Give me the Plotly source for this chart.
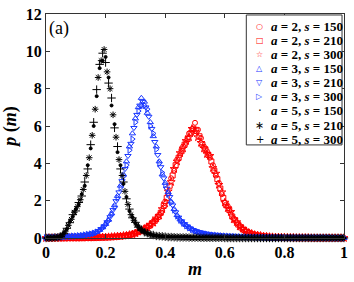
import plotly.graph_objects as go

# ---------------- data ----------------
m_a = [0.00, 0.01, 0.02, 0.03, 0.04, 0.05, 0.06, 0.07, 0.08, 0.09,
       0.10, 0.11, 0.12, 0.13, 0.14, 0.15, 0.16, 0.17, 0.18, 0.19,
       0.20, 0.21, 0.22, 0.23, 0.24, 0.25, 0.26, 0.27, 0.28, 0.29,
       0.30, 0.31, 0.32, 0.33, 0.34, 0.35, 0.36, 0.37, 0.38, 0.39,
       0.40, 0.41, 0.42, 0.43, 0.44, 0.45, 0.46, 0.47, 0.48, 0.49,
       0.50, 0.51, 0.52, 0.53, 0.54, 0.55, 0.56, 0.57, 0.58, 0.59,
       0.60, 0.61, 0.62, 0.63, 0.64, 0.65, 0.66, 0.67, 0.68, 0.69,
       0.70, 0.71, 0.72, 0.73, 0.74, 0.75, 0.76, 0.77, 0.78, 0.79,
       0.80, 0.81, 0.82, 0.83, 0.84, 0.85, 0.86, 0.87, 0.88, 0.89,
       0.90, 0.91, 0.92, 0.93, 0.94, 0.95, 0.96, 0.97, 0.98, 0.99,
       1.00]
m_b = [0.005, 0.015, 0.025, 0.035, 0.045, 0.055, 0.065, 0.075, 0.085, 0.095,
       0.105, 0.115, 0.125, 0.135, 0.145, 0.155, 0.165, 0.175, 0.185, 0.195,
       0.205, 0.215, 0.225, 0.235, 0.245, 0.255, 0.265, 0.275, 0.285, 0.295,
       0.305, 0.315, 0.325, 0.335, 0.345, 0.355, 0.365, 0.375, 0.385, 0.395,
       0.405, 0.415, 0.425, 0.435, 0.445, 0.455, 0.465, 0.475, 0.485, 0.495,
       0.505, 0.515, 0.525, 0.535, 0.545, 0.555, 0.565, 0.575, 0.585, 0.595,
       0.605, 0.615, 0.625, 0.635, 0.645, 0.655, 0.665, 0.675, 0.685, 0.695,
       0.705, 0.715, 0.725, 0.735, 0.745, 0.755, 0.765, 0.775, 0.785, 0.795,
       0.805, 0.815, 0.825, 0.835, 0.845, 0.855, 0.865, 0.875, 0.885, 0.895,
       0.905, 0.915, 0.925, 0.935, 0.945, 0.955, 0.965, 0.975, 0.985, 0.995]

# a = 2
p_a2_s150 = [0, 0, 0, 0, 0, 0, 0, 0, 0.01, 0.01,
             0.01, 0.01, 0.02, 0.01, 0.02, 0.02, 0.03, 0.03, 0.03, 0.04,
             0.05, 0.05, 0.06, 0.07, 0.08, 0.10, 0.11, 0.14, 0.16, 0.21,
             0.27, 0.32, 0.41, 0.47, 0.60, 0.68, 0.88, 1.00, 1.25, 1.45,
             1.95, 2.40, 3.20, 3.60, 4.20, 4.45, 4.90, 5.10, 5.60, 5.75,
             6.17, 5.80, 5.35, 4.90, 4.65, 4.30, 3.90, 3.35, 2.95, 2.35,
             1.90, 1.70, 1.30, 1.05, 0.82, 0.66, 0.48, 0.37, 0.30, 0.22,
             0.18, 0.14, 0.11, 0.09, 0.07, 0.06, 0.05, 0.04, 0.03, 0.03,
             0.02, 0.02, 0.02, 0.01, 0.01, 0.01, 0.01, 0.01, 0, 0,
             0, 0, 0, 0, 0, 0, 0, 0, 0, 0,
             0]
p_a2_s210 = [0, 0, 0, 0, 0, 0, 0, 0, 0.01, 0.01,
             0.01, 0.01, 0.02, 0.02, 0.02, 0.02, 0.03, 0.03, 0.04, 0.04,
             0.05, 0.05, 0.07, 0.07, 0.09, 0.10, 0.12, 0.15, 0.18, 0.23,
             0.30, 0.36, 0.44, 0.53, 0.64, 0.78, 0.92, 1.12, 1.35, 1.72,
             2.15, 2.80, 3.35, 3.90, 4.30, 4.65, 5.00, 5.30, 5.60, 5.85,
             5.75, 5.45, 5.00, 4.75, 4.45, 4.10, 3.60, 3.15, 2.65, 2.15,
             1.75, 1.50, 1.15, 0.95, 0.72, 0.56, 0.43, 0.33, 0.25, 0.20,
             0.16, 0.13, 0.11, 0.09, 0.07, 0.06, 0.05, 0.04, 0.03, 0.03,
             0.02, 0.02, 0.02, 0.01, 0.01, 0.01, 0.01, 0.01, 0, 0,
             0, 0, 0, 0, 0, 0, 0, 0, 0, 0]
p_a2_s300 = [0, 0, 0, 0, 0, 0, 0, 0.01, 0.01, 0.01,
             0.01, 0.01, 0.01, 0.02, 0.02, 0.02, 0.02, 0.03, 0.04, 0.04,
             0.04, 0.05, 0.06, 0.07, 0.09, 0.09, 0.12, 0.13, 0.17, 0.20,
             0.25, 0.34, 0.39, 0.50, 0.56, 0.72, 0.82, 1.05, 1.20, 1.55,
             1.85, 2.50, 3.00, 3.70, 4.10, 4.55, 4.80, 5.20, 5.40, 5.85,
             5.70, 5.40, 5.10, 4.80, 4.50, 4.40, 3.75, 3.45, 2.85, 2.45,
             1.90, 1.60, 1.40, 1.00, 0.85, 0.62, 0.50, 0.38, 0.28, 0.23,
             0.17, 0.15, 0.12, 0.09, 0.08, 0.06, 0.05, 0.04, 0.04, 0.03,
             0.03, 0.02, 0.02, 0.02, 0.01, 0.01, 0.01, 0.01, 0.01, 0,
             0, 0, 0, 0, 0, 0, 0, 0, 0, 0,
             0]

# a = 3
p_a3_s150 = [0.02, 0.02, 0.03, 0.03, 0.04, 0.05, 0.06, 0.07, 0.08, 0.09,
             0.10, 0.11, 0.13, 0.15, 0.18, 0.22, 0.26, 0.33, 0.43, 0.57,
             0.75, 0.98, 1.32, 1.75, 2.25, 2.80, 3.40, 4.10, 4.90, 5.60,
             6.40, 7.00, 7.50, 7.30, 6.70, 6.20, 5.45, 4.90, 4.10, 3.40,
             2.95, 2.45, 1.95, 1.55, 1.22, 0.99, 0.83, 0.69, 0.57, 0.47,
             0.39, 0.33, 0.28, 0.24, 0.21, 0.18, 0.16, 0.14, 0.13, 0.11,
             0.10, 0.09, 0.08, 0.08, 0.07, 0.06, 0.06, 0.05, 0.05, 0.04,
             0.04, 0.04, 0.03, 0.03, 0.03, 0.03, 0.02, 0.02, 0.02, 0.02,
             0.02, 0.02, 0.02, 0.01, 0.01, 0.01, 0.01, 0.01, 0.01, 0.01,
             0.01, 0.01, 0.01, 0.01, 0.01, 0.01, 0.01, 0, 0, 0,
             0]
p_a3_s210 = [0.02, 0.03, 0.03, 0.04, 0.05, 0.05, 0.06, 0.08, 0.09, 0.10,
             0.11, 0.12, 0.14, 0.17, 0.20, 0.23, 0.29, 0.37, 0.48, 0.63,
             0.85, 1.12, 1.50, 1.98, 2.45, 3.05, 3.70, 4.40, 5.05, 5.90,
             6.60, 7.10, 7.30, 7.00, 6.50, 5.85, 5.15, 4.45, 3.80, 3.20,
             2.65, 2.20, 1.75, 1.38, 1.10, 0.90, 0.75, 0.62, 0.51, 0.42,
             0.35, 0.30, 0.25, 0.22, 0.19, 0.17, 0.15, 0.13, 0.12, 0.10,
             0.10, 0.09, 0.08, 0.07, 0.06, 0.06, 0.05, 0.05, 0.04, 0.04,
             0.04, 0.03, 0.03, 0.03, 0.02, 0.02, 0.02, 0.02, 0.02, 0.02,
             0.02, 0.01, 0.01, 0.01, 0.01, 0.01, 0.01, 0.01, 0.01, 0.01,
             0.01, 0.01, 0.01, 0.01, 0.01, 0, 0, 0, 0, 0]
p_a3_s300 = [0.02, 0.03, 0.03, 0.04, 0.04, 0.05, 0.06, 0.07, 0.08, 0.10,
             0.10, 0.12, 0.13, 0.16, 0.19, 0.21, 0.25, 0.31, 0.40, 0.53,
             0.70, 0.92, 1.25, 1.65, 2.15, 2.70, 3.30, 3.90, 4.70, 5.30,
             6.20, 6.80, 7.10, 7.10, 6.90, 6.00, 5.60, 4.75, 4.00, 3.50,
             2.85, 2.35, 1.90, 1.50, 1.18, 0.96, 0.80, 0.66, 0.55, 0.45,
             0.37, 0.31, 0.27, 0.23, 0.20, 0.17, 0.15, 0.14, 0.12, 0.11,
             0.10, 0.09, 0.08, 0.07, 0.06, 0.06, 0.05, 0.05, 0.04, 0.04,
             0.04, 0.03, 0.03, 0.03, 0.02, 0.02, 0.02, 0.02, 0.02, 0.02,
             0.02, 0.01, 0.01, 0.01, 0.01, 0.01, 0.01, 0.01, 0.01, 0.01,
             0.01, 0.01, 0.01, 0.01, 0.01, 0.01, 0, 0, 0, 0,
             0]

# a = 5
p_a5_s150 = [0, 0, 0.01, 0.02, 0.05, 0.12, 0.27, 0.48, 0.88, 1.15,
             1.55, 1.80, 2.35, 2.80, 3.90, 4.80, 6.00, 7.60, 9.10, 9.50,
             9.70, 8.60, 7.10, 6.10, 4.60, 3.90, 2.90, 2.20, 1.45, 1.12,
             0.80, 0.62, 0.43, 0.33, 0.24, 0.20, 0.14, 0.12, 0.10, 0.08,
             0.07, 0.06, 0.05, 0.04, 0.04, 0.03, 0.03, 0.02, 0.02, 0.02,
             0.02, 0.01, 0.01, 0.01, 0.01, 0.01, 0.01, 0.01, 0.01, 0.01,
             0.01, 0, 0, 0, 0, 0, 0, 0, 0, 0,
             0, 0, 0, 0, 0, 0, 0, 0, 0, 0,
             0, 0, 0, 0, 0, 0, 0, 0, 0, 0,
             0, 0, 0, 0, 0, 0, 0, 0, 0, 0,
             0]
p_a5_s210 = [0, 0.01, 0.01, 0.03, 0.06, 0.16, 0.37, 0.68, 1.00, 1.38,
             1.68, 2.05, 2.60, 3.35, 4.30, 5.50, 6.90, 8.60, 9.50, 10.10,
             8.90, 8.00, 6.60, 5.40, 4.20, 3.35, 2.50, 1.80, 1.25, 0.95,
             0.70, 0.52, 0.38, 0.28, 0.22, 0.17, 0.13, 0.11, 0.09, 0.08,
             0.06, 0.05, 0.05, 0.04, 0.04, 0.03, 0.03, 0.03, 0.02, 0.02,
             0.02, 0.01, 0.01, 0.01, 0.01, 0.01, 0.01, 0.01, 0.01, 0.01,
             0, 0, 0, 0, 0, 0, 0, 0, 0, 0,
             0, 0, 0, 0, 0, 0, 0, 0, 0, 0,
             0, 0, 0, 0, 0, 0, 0, 0, 0, 0,
             0, 0, 0, 0, 0, 0, 0, 0, 0, 0]
p_a5_s300 = [0, 0.01, 0.01, 0.03, 0.04, 0.09, 0.23, 0.52, 0.82, 1.25,
             1.45, 1.90, 2.25, 3.00, 3.70, 5.00, 6.20, 7.95, 9.30, 9.90,
             9.40, 8.30, 7.50, 5.90, 4.90, 3.70, 3.00, 2.10, 1.55, 1.08,
             0.84, 0.58, 0.45, 0.31, 0.26, 0.18, 0.16, 0.11, 0.10, 0.09,
             0.07, 0.05, 0.05, 0.04, 0.03, 0.03, 0.03, 0.03, 0.02, 0.02,
             0.02, 0.02, 0.01, 0.01, 0.01, 0.01, 0.01, 0.01, 0.01, 0.01,
             0, 0, 0, 0, 0, 0, 0, 0, 0, 0,
             0, 0, 0, 0, 0, 0, 0, 0, 0, 0,
             0, 0, 0, 0, 0, 0, 0, 0, 0, 0,
             0, 0, 0, 0, 0, 0, 0, 0, 0, 0,
             0]

a_values = [2, 2, 2, 3, 3, 3, 5, 5, 5]
s_values = [150, 210, 300, 150, 210, 300, 150, 210, 300]
x_tick_vals = [0, 0.2, 0.4, 0.6, 0.8, 1]
x_tick_text = ["0", "0.2", "0.4", "0.6", "0.8", "1"]
y_tick_vals = [0, 2, 4, 6, 8, 10, 12]

# ---------------- styling ----------------
RED = "rgb(255,0,0)"
BLUE = "rgb(25,55,255)"
BLACK = "rgb(0,0,0)"
SERIF = "Liberation Serif"

series = [
    (m_a, p_a2_s150, RED, "circle-open", 5),
    (m_b, p_a2_s210, RED, "square-open", 5),
    (m_a, p_a2_s300, RED, "star-open", 6),
    (m_a, p_a3_s150, BLUE, "triangle-up-open", 5.5),
    (m_b, p_a3_s210, BLUE, "triangle-down-open", 5.5),
    (m_a, p_a3_s300, BLUE, "triangle-right-open", 5.5),
    (m_a, p_a5_s150, BLACK, "circle", 3),
    (m_b, p_a5_s210, BLACK, "asterisk-open", 5.5),
    (m_a, p_a5_s300, BLACK, "cross-thin-open", 6),
]
legend_glyphs = ["\u25CB", "\u25A1", "\u2606", "\u25B3", "\u25BD", "\u25B7", "\u00B7", "\u2217", "+"]
legend_glyph_sizes = [8, 8, 8, 8, 8, 8, 12, 11, 10]

W, H = 354, 282
ML, MR, MT, MB = 46, 6, 12, 39
PW = W - ML - MR
PH = H - MT - MB


def px2x(px):
    return (px - ML) / PW


def py2y(py):
    return (H - MB - py) / PH


fig = go.Figure()
for (xs, ys, col, sym, size), a, s in zip(series, a_values, s_values):
    assert len(xs) == len(ys), (a, s, len(xs), len(ys))
    fig.add_trace(go.Scatter(
        x=xs, y=ys, mode="markers", cliponaxis=False, showlegend=False,
        name=f"a = {a}, s = {s}",
        marker=dict(symbol=sym, size=size, color=col,
                    line=dict(color=col, width=1)),
    ))

annotations = []
shapes = []
# legend box
shapes.append(dict(type="rect", xref="paper", yref="paper",
                   x0=px2x(249), x1=px2x(346), y0=py2y(147), y1=py2y(13),
                   line=dict(color="#333", width=1), fillcolor="white", layer="above"))
for k, (a, s) in enumerate(zip(a_values, s_values)):
    yc = 25 + 14.5 * k
    col = series[k][2]
    annotations.append(dict(
        xref="paper", yref="paper", x=px2x(262.5), y=py2y(yc),
        text=legend_glyphs[k], showarrow=False, xanchor="center", yanchor="middle",
        font=dict(family="DejaVu Sans", size=legend_glyph_sizes[k], color=col)))
    annotations.append(dict(
        xref="paper", yref="paper", x=px2x(272), y=py2y(yc),
        text=f"<b><i>a</i> = {a}, <i>s</i> = {s}</b>", showarrow=False,
        xanchor="left", yanchor="middle",
        font=dict(family=SERIF, size=13, color="black")))
annotations.append(dict(
    xref="paper", yref="paper", x=px2x(47), y=py2y(27),
    text="(a)", showarrow=False, xanchor="left", yanchor="middle",
    font=dict(family=SERIF, size=18, color="black")))

axis_common = dict(
    showline=True, linecolor="#333", linewidth=1, mirror="ticks",
    ticks="inside", ticklen=4, tickcolor="#333", tickwidth=1,
    showgrid=False, zeroline=False,
    tickfont=dict(family=SERIF, size=16, color="black", weight="bold"),
)

fig.update_layout(
    width=W, height=H, autosize=False,
    margin=dict(l=ML, r=MR, t=MT, b=MB),
    paper_bgcolor="white", plot_bgcolor="white",
    xaxis=dict(range=[0, 1], tickvals=x_tick_vals, ticktext=x_tick_text,
               title=dict(text="<b><i>m</i></b>", standoff=2,
                          font=dict(family=SERIF, size=18, color="black")),
               **axis_common),
    yaxis=dict(range=[0, 12], tickvals=y_tick_vals,
               title=dict(text="<b><i>p</i> (<i>m</i>)</b>", standoff=4,
                          font=dict(family=SERIF, size=18, color="black")),
               **axis_common),
    shapes=shapes,
    annotations=annotations,
    showlegend=False,
)

fig.write_html(
    "out.html",
    config={"displayModeBar": False, "staticPlot": True},
    post_script="document.body.style.margin='0';document.body.style.padding='0';"
                "document.documentElement.style.overflow='hidden';",
)
